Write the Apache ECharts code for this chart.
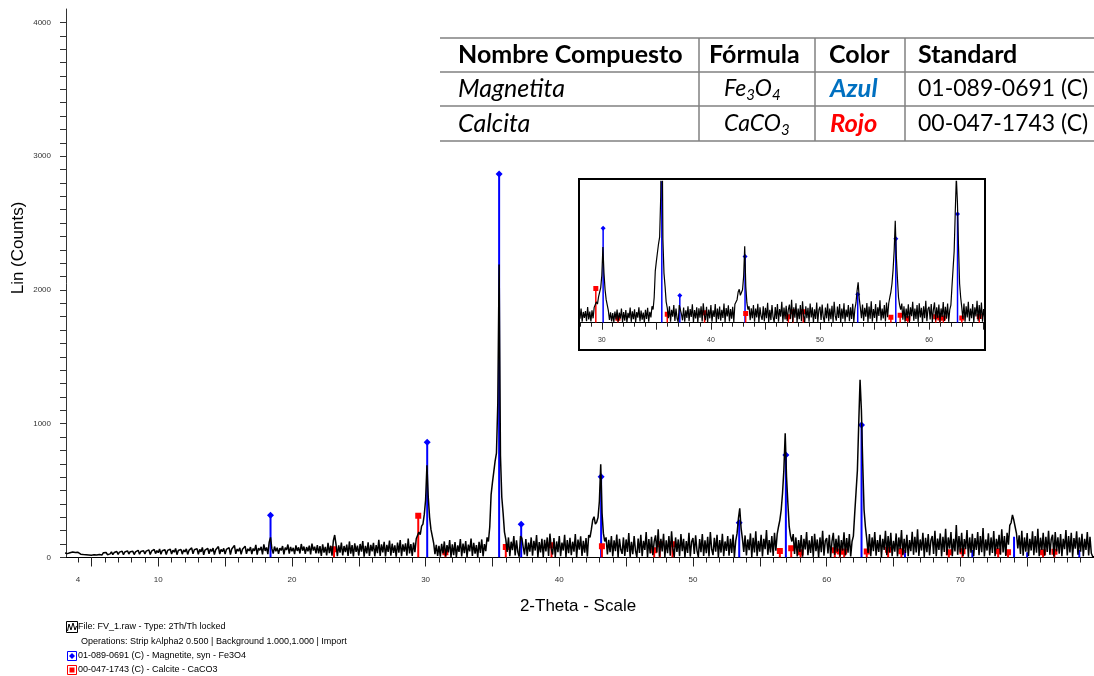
<!DOCTYPE html>
<html>
<head>
<meta charset="utf-8">
<script src="https://cdn.jsdelivr.net/npm/echarts@6/dist/echarts.min.js"></script>
<style>
html,body{margin:0;padding:0;background:#fff;}
#chart{width:1094px;height:676px;}
</style>
</head>
<body>
<div id="chart"></div>
<script>
// Diffractogram FV_1: counts every 0.1° 2θ from 3.0° to 80.0°
const scanStart = 3.0;
const scanStep = 0.1;
const scanCounts = [
  34,40,29,43,36,27,41,32,38,28,      // 3
  39,30,25,36,22,33,21,30,19,27,      // 4
  17,26,20,29,18,31,22,34,19,36,      // 5
  24,38,21,35,27,42,22,37,28,45,      // 6
  23,40,30,47,21,41,33,50,26,43,      // 7
  31,46,22,42,35,54,24,45,36,51,      // 8
  27,48,38,57,23,47,37,60,29,52,      // 9
  36,64,24,50,41,58,22,53,43,62,      // 10
  26,55,40,68,21,52,44,61,25,57,      // 11
  42,65,23,53,46,72,27,58,47,66,      // 12
  24,60,43,75,20,56,48,69,28,62,      // 13
  45,70,22,58,50,82,26,61,44,68,      // 14
  25,60,48,74,21,64,51,90,27,63,      // 15
  47,72,23,62,53,85,28,65,49,78,      // 16
  26,67,50,94,22,70,54,80,24,98,      // 17
  49,75,25,115,150,66,30,82,47,73,    // 18
  27,70,53,86,23,74,56,97,29,79,      // 19
  46,72,26,90,49,76,30,101,51,82,     // 20
  28,78,47,88,24,104,52,81,31,92,     // 21
  30,85,12,99,36,80,15,110,32,88,     // 22
  14,125,168,98,10,90,37,112,16,86,   // 23
  40,97,12,120,28,92,8,106,42,89,     // 24
  14,101,44,123,7,87,30,114,11,95,    // 25
  46,110,9,92,32,133,12,99,39,117,    // 26
  8,94,42,126,14,103,34,90,6,112,     // 27
  37,130,10,98,44,106,13,142,30,101,  // 28
  12,112,40,140,128,190,170,235,250,320,   // 29
  430,690,450,300,210,160,110,25,95,12,    // 30
  88,6,102,30,120,9,93,38,130,4,           // 31
  98,18,115,3,90,42,138,8,104,32,          // 32
  122,5,96,46,141,12,110,28,92,3,          // 33
  118,34,135,9,100,48,150,120,230,470,     // 34
  560,640,720,780,1150,2190,760,450,330,190, // 35
  135,42,150,10,118,55,160,16,128,40,      // 36
  6,160,145,78,22,138,9,112,44,150,        // 37
  14,125,52,168,5,115,38,140,3,132,        // 38
  46,150,12,178,68,22,145,4,120,40,        // 39
  160,10,112,52,170,5,130,32,148,18,       // 40
  118,44,175,3,134,58,158,12,125,36,       // 41
  145,7,168,150,210,280,305,250,265,300,   // 42
  420,697,330,180,120,150,22,132,40,160,   // 43
  8,128,48,172,4,140,60,27,150,12,         // 44
  135,42,182,5,118,24,160,52,3,142,        // 45
  34,170,9,125,56,190,4,138,30,155,        // 46
  17,120,165,37,210,7,140,46,178,4,        // 47
  128,32,160,14,195,62,5,150,42,135,       // 48
  10,175,48,140,3,122,34,185,7,118,        // 49
  145,26,165,52,4,138,40,175,12,128,       // 50
  32,155,7,190,62,18,148,44,170,3,         // 51
  130,37,178,9,120,50,160,14,140,34,       // 52
  172,5,125,180,290,368,220,140,42,165,    // 53
  16,135,54,180,4,148,37,195,10,125,       // 54
  44,170,8,140,62,205,20,130,38,160,       // 55
  12,185,50,175,230,280,355,480,654,929,   // 56
  604,405,230,160,120,175,27,150,8,130,    // 57
  42,168,6,140,60,190,17,128,34,160,       // 58
  5,178,48,135,3,150,40,200,14,125,        // 59
  145,30,170,5,120,185,20,140,44,165,      // 60
  7,130,52,188,16,145,36,175,8,120,        // 61
  160,330,490,650,1000,1328,1100,700,355,230, // 62
  140,34,175,9,150,48,190,14,130,42,       // 63
  170,5,140,57,200,18,160,37,185,10,       // 64
  125,44,180,7,150,62,205,17,140,34,       // 65
  170,9,130,48,192,20,155,38,210,12,       // 66
  135,52,185,5,148,40,175,16,128,160,      // 67
  27,200,10,142,57,180,7,155,42,215,       // 68
  17,150,67,190,9,140,46,243,20,160,       // 69
  38,185,12,138,62,205,5,150,36,178,       // 70
  10,145,56,190,18,160,40,220,7,135,       // 71
  52,180,16,150,34,198,9,140,64,170,       // 72
  20,210,38,160,12,185,95,240,260,318,     // 73
  280,230,180,67,165,26,200,14,150,44,     // 74
  182,12,140,52,195,18,160,36,215,9,       // 75
  148,56,185,14,155,42,200,20,135,170,     // 76
  7,190,46,150,28,175,10,140,62,205,       // 77
  16,160,38,185,5,145,66,195,20,150,       // 78
  44,178,10,140,56,190,16,155,32,8,        // 79
  5                                        // 80
];

// Reference pattern 01-089-0691 (C) Magnetite, syn - Fe3O4
const magnetitePos = [18.40, 30.12, 35.50, 37.15, 43.13, 53.46, 56.95, 62.61];
const magnetiteInt = [316, 862, 2866, 248, 604, 260, 767, 991];
const magnetiteWeakPos = [65.86, 70.90, 74.02, 75.00, 78.90];
const magnetiteWeakInt = [56, 56, 156, 40, 56];

// Reference pattern 00-047-1743 (C) Calcite - CaCO3
const calcitePos = [23.15, 29.45, 31.48, 36.00, 39.42, 43.19, 47.10, 47.52, 48.47, 56.50, 57.35, 58.05,
                    60.61, 60.99, 61.31, 63.00, 64.60, 65.59, 69.14, 70.16, 72.83, 73.57, 76.19, 77.04];
const calciteInt = [62, 313, 40, 78, 91, 84, 54, 99, 99, 49, 69, 39,
                    54, 44, 44, 44, 57, 46, 39, 46, 46, 39, 39, 43];

// Axis labels
const xLabelValues = [4, 10, 20, 30, 40, 50, 60, 70];
const yLabelValues = [0, 1000, 2000, 3000, 4000];
const insetLabelValues = [30, 40, 50, 60];

// Phase table
const tableHeader = ['Nombre Compuesto', 'Fórmula', 'Color', 'Standard'];
const phaseNames = ['Magnetita', 'Calcita'];
const phaseFormulas = [[['Fe', '3'], ['O', '4']], [['CaCO', '3']]];
const phaseColorNames = ['Azul', 'Rojo'];
const phaseColors = ['#0070C0', '#FF0000'];
const phaseCards = ['01-089-0691 (C)', '00-047-1743 (C)'];

// Legend lines under the plot
const legendLines = [
  'File: FV_1.raw - Type: 2Th/Th locked',
  'Operations: Strip kAlpha2 0.500 | Background 1.000,1.000 | Import',
  '01-089-0691 (C) - Magnetite, syn - Fe3O4',
  '00-047-1743 (C) - Calcite - CaCO3'
];

const scanData = scanCounts.map((v, i) => [+(scanStart + i * scanStep).toFixed(1), v]);
const pairs = (p, v) => p.map((x, i) => [x, v[i]]);

const BLUE = '#0000FF';
const RED = '#FF0000';
const LABEL_FONT = 'Liberation Sans, Arial, sans-serif';

function range(a, b, s) { const r = []; for (let v = a; v <= b + 1e-9; v += s) r.push(+v.toFixed(3)); return r; }

function stickRenderer(color, marker, size, lw) {
  return function (params, api) {
    const x = api.value(0), v = api.value(1);
    const b = api.coord([x, 0]);
    const t = api.coord([x, v]);
    const children = [{
      type: 'line',
      shape: { x1: b[0], y1: b[1], x2: t[0], y2: t[1] },
      style: { stroke: color, lineWidth: lw }
    }];
    if (marker === 'diamond') {
      children.push({
        type: 'polygon',
        shape: { points: [[t[0], t[1] - size], [t[0] + size, t[1]], [t[0], t[1] + size], [t[0] - size, t[1]]] },
        style: { fill: color }
      });
    } else if (marker === 'square') {
      children.push({
        type: 'rect',
        shape: { x: t[0] - size, y: t[1] - size, width: size * 2, height: size * 2 },
        style: { fill: color }
      });
    }
    return { type: 'group', children };
  };
}

function stickSeries(data, color, marker, size, lw, xi, yi) {
  return {
    type: 'custom', xAxisIndex: xi, yAxisIndex: yi, clip: true, silent: true,
    data, encode: { x: 0, y: 1 },
    renderItem: stickRenderer(color, marker, size, lw)
  };
}

const chart = echarts.init(document.getElementById('chart'), null, { renderer: 'canvas' });

const mainTop = 9, mainBottom = 557.5, mainLeft = 66, mainRight = 1094;
const insetL = 580, insetR = 983.6, insetT = 181.3, insetB = 322.7;

// table graphics
const tRows = [38, 72, 106, 141];
const tCols = [699, 815, 905];
const tLeft = 440, tRight = 1094;
const tText = [458, 709, 829, 918];
const tTextBody = [458, 724, 830, 918];
const tMid = [55, 89, 124];
const tableFont = 'Lato, "Open Sans", sans-serif';
const graphics = [];
tRows.forEach(y => graphics.push({ type: 'line', shape: { x1: tLeft, y1: y, x2: tRight, y2: y }, style: { stroke: '#808080', lineWidth: 1.5 } }));
tCols.forEach(x => graphics.push({ type: 'line', shape: { x1: x, y1: tRows[0], x2: x, y2: tRows[3] }, style: { stroke: '#808080', lineWidth: 1.5 } }));
tableHeader.forEach((h, i) => graphics.push({
  type: 'text', x: tText[i], y: tMid[0],
  style: { text: h, font: `bold 25px ${tableFont}`, fill: '#000', align: 'left', verticalAlign: 'middle' }
}));
phaseNames.forEach((name, r) => {
  const y = tMid[r + 1];
  graphics.push({ type: 'text', x: tTextBody[0], y, style: { text: name, font: `italic 25px ${tableFont}`, fill: '#000', align: 'left', verticalAlign: 'middle' } });
  const rich = phaseFormulas[r].map(([a, s]) => `{n|${a}}{s|${s}}`).join('');
  graphics.push({
    type: 'text', x: tTextBody[1], y,
    style: {
      text: rich, align: 'left', verticalAlign: 'middle',
      rich: {
        n: { font: `italic 23px ${tableFont}`, fill: '#000', lineHeight: 28, verticalAlign: 'middle' },
        s: { font: `italic 15px ${tableFont}`, fill: '#000', lineHeight: 28, verticalAlign: 'bottom' }
      }
    }
  });
  graphics.push({ type: 'text', x: tTextBody[2], y, style: { text: phaseColorNames[r], font: `italic bold 25.5px ${tableFont}`, fill: phaseColors[r], align: 'left', verticalAlign: 'middle' } });
  graphics.push({ type: 'text', x: tTextBody[3], y, style: { text: phaseCards[r], font: `23px ${tableFont}`, fill: '#000', align: 'left', verticalAlign: 'middle' } });
});

// inset frame
graphics.push({ type: 'rect', shape: { x: 579, y: 179, width: 406, height: 171 }, style: { fill: 'none', stroke: '#000', lineWidth: 2 }, z: 100 });

// axis titles
graphics.push({ type: 'text', x: 18, y: 248, rotation: Math.PI / 2, style: { text: 'Lin (Counts)', font: `17px ${LABEL_FONT}`, fill: '#000', align: 'center', verticalAlign: 'middle' } });
graphics.push({ type: 'text', x: 578, y: 606, style: { text: '2-Theta - Scale', font: `17px ${LABEL_FONT}`, fill: '#000', align: 'center', verticalAlign: 'middle' } });

// legend block
const legY = [627, 642, 656, 670];
legendLines.forEach((t, i) => graphics.push({
  type: 'text', x: i === 1 ? 81 : 78, y: legY[i],
  style: { text: t, font: `9px ${LABEL_FONT}`, fill: '#000', align: 'left', verticalAlign: 'middle' }
}));
graphics.push({ type: 'rect', shape: { x: 66.5, y: 621.5, width: 11, height: 11 }, style: { fill: 'none', stroke: '#000', lineWidth: 1 } });
graphics.push({ type: 'polyline', shape: { points: [[67.5, 631], [69, 624], [71, 630], [73, 623], [75, 630], [76.5, 626]] }, style: { fill: 'none', stroke: '#000', lineWidth: 1 } });
graphics.push({ type: 'rect', shape: { x: 67.5, y: 651.5, width: 9, height: 9 }, style: { fill: 'none', stroke: BLUE, lineWidth: 1 } });
graphics.push({ type: 'polygon', shape: { points: [[72, 653], [75, 656], [72, 659], [69, 656]] }, style: { fill: BLUE } });
graphics.push({ type: 'rect', shape: { x: 67.5, y: 665.5, width: 9, height: 9 }, style: { fill: 'none', stroke: RED, lineWidth: 1 } });
graphics.push({ type: 'rect', shape: { x: 69.5, y: 667.5, width: 5, height: 5 }, style: { fill: RED } });

const tickLabelStyle = { fontFamily: LABEL_FONT, fontSize: 8, color: '#333', formatter: v => String(v) };

const option = {
  animation: false,
  backgroundColor: '#fff',
  grid: [
    { left: mainLeft, top: mainTop, width: mainRight - mainLeft, height: mainBottom - mainTop, containLabel: false },
    { left: insetL, top: insetT, width: insetR - insetL, height: insetB - insetT, containLabel: false }
  ],
  xAxis: [
    { type: 'value', gridIndex: 0, position: 'bottom', min: 3.1, max: 80,
      axisLine: { show: true, onZero: false, lineStyle: { color: '#000', width: 1 } },
      axisTick: { show: true, customValues: range(4, 79, 1), length: 5, lineStyle: { color: '#222' } },
      axisLabel: { show: true, customValues: xLabelValues, margin: 18, ...tickLabelStyle },
      splitLine: { show: false } },
    { type: 'value', gridIndex: 0, position: 'bottom', min: 3.1, max: 80,
      axisLine: { show: false },
      axisTick: { show: true, customValues: range(5, 75, 5), length: 9, lineStyle: { color: '#222' } },
      axisLabel: { show: false }, splitLine: { show: false } },
    { type: 'value', gridIndex: 1, position: 'bottom', min: 28, max: 65,
      axisLine: { show: true, onZero: false, lineStyle: { color: '#000', width: 1 } },
      axisTick: { show: true, customValues: range(28, 65, 1), length: 4, lineStyle: { color: '#222' } },
      axisLabel: { show: true, customValues: insetLabelValues, margin: 14, ...tickLabelStyle, fontSize: 7 },
      splitLine: { show: false } },
    { type: 'value', gridIndex: 1, position: 'bottom', min: 28, max: 65,
      axisLine: { show: false },
      axisTick: { show: true, customValues: range(30, 65, 5), length: 7, lineStyle: { color: '#222' } },
      axisLabel: { show: false }, splitLine: { show: false } }
  ],
  yAxis: [
    { type: 'value', gridIndex: 0, min: 0, max: 4100,
      axisLine: { show: true, onZero: false, lineStyle: { color: '#333', width: 1 } },
      axisTick: { show: true, customValues: range(0, 4000, 100), length: 6, lineStyle: { color: '#333' } },
      axisLabel: { show: true, customValues: yLabelValues, margin: 15, ...tickLabelStyle },
      splitLine: { show: false } },
    { type: 'value', gridIndex: 1, min: 0, max: 1290, show: false, splitLine: { show: false } }
  ],
  series: [
    { type: 'line', xAxisIndex: 0, yAxisIndex: 0, data: scanData, showSymbol: false, symbol: 'none',
      lineStyle: { color: '#000', width: 1.5 }, clip: true, silent: true },
    stickSeries(pairs(magnetiteWeakPos, magnetiteWeakInt), BLUE, 'none', 0, 2, 0, 0),
    stickSeries(pairs(magnetitePos, magnetiteInt), BLUE, 'diamond', 3.5, 2, 0, 0),
    stickSeries(pairs(calcitePos, calciteInt), RED, 'square', 3, 2, 0, 0),

    { type: 'line', xAxisIndex: 2, yAxisIndex: 1, data: scanData, showSymbol: false, symbol: 'none',
      lineStyle: { color: '#000', width: 1.2 }, clip: true, silent: true },
    stickSeries(pairs(magnetiteWeakPos, magnetiteWeakInt), BLUE, 'none', 0, 1.5, 2, 1),
    stickSeries(pairs(magnetitePos, magnetiteInt), BLUE, 'diamond', 2.5, 1.5, 2, 1),
    stickSeries(pairs(calcitePos, calciteInt), RED, 'square', 2.5, 1.5, 2, 1)
  ],
  graphic: { elements: graphics }
};

chart.setOption(option);
</script>
</body>
</html>
